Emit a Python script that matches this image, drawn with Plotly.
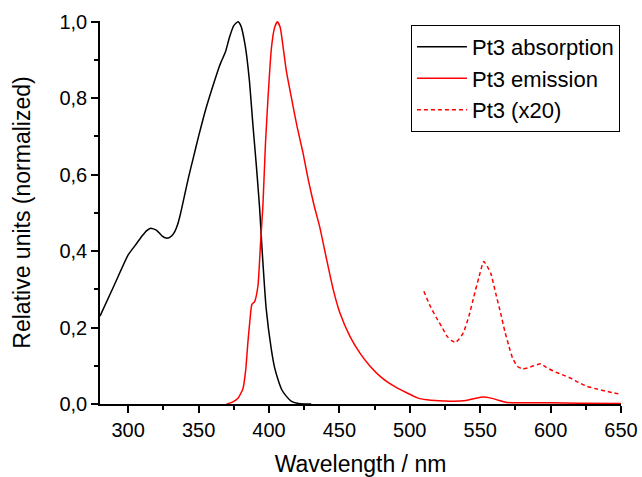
import plotly.graph_objects as go

# Absorption (black)
abs_wl = [280, 290, 300, 305, 310, 313, 316, 320, 324, 327, 329, 331, 333, 335, 337, 340, 343, 346,
          350, 355, 360, 364, 366, 369, 372, 375, 378, 380, 383, 386, 388.6, 391, 393.4, 395, 398,
          401.7, 404, 406.4, 409, 412.4, 416, 420, 425, 430]
abs_val = [0.23, 0.31, 0.39, 0.415, 0.44, 0.453, 0.46, 0.455, 0.44, 0.434, 0.435, 0.44, 0.45, 0.468,
           0.495, 0.545, 0.595, 0.64, 0.70, 0.77, 0.83, 0.875, 0.895, 0.92, 0.96, 0.99, 1.0, 0.99,
           0.94, 0.85, 0.73, 0.625, 0.51, 0.41, 0.25, 0.142, 0.095, 0.064, 0.038, 0.02, 0.007, 0.002,
           0.0, 0.0]

# Emission (red, solid)
em_wl = [370, 374, 378, 381.5, 383.5, 385, 386.5, 387.8, 389.8, 392.2, 394, 395.7, 397.5, 399.3,
         401.7, 404, 406, 408, 410, 412.4, 416, 420, 424, 428, 432, 436, 441, 445.6, 450.4, 457.5,
         464.6, 471.8, 480, 490, 498, 503, 507, 515, 525, 531, 540, 547, 552, 557, 563, 569, 580,
         600, 620, 650]
em_val = [0.0, 0.005, 0.015, 0.04, 0.09, 0.16, 0.22, 0.26, 0.268, 0.31, 0.42, 0.52, 0.68, 0.80,
          0.93, 0.985, 1.0, 0.985, 0.935, 0.87, 0.80, 0.725, 0.66, 0.585, 0.52, 0.464, 0.377, 0.30,
          0.238, 0.177, 0.133, 0.099, 0.069, 0.044, 0.029, 0.02, 0.014, 0.01, 0.008, 0.007, 0.009,
          0.015, 0.018, 0.016, 0.01, 0.004, 0.003, 0.003, 0.002, 0.001]

# Emission x20 (red, dashed)
x20_wl = [510, 514, 519, 523, 526.5, 530, 532.5, 535, 538, 542, 545.5, 549, 552.5, 555, 557.5, 561,
          564.5, 567.5, 570.5, 573, 576.5, 580, 583.5, 588, 593, 597, 602.5, 608, 614, 620, 626,
          633, 640, 645, 650]
x20_val = [0.295, 0.26, 0.225, 0.20, 0.177, 0.165, 0.161, 0.17, 0.186, 0.23, 0.281, 0.33, 0.373,
           0.36, 0.342, 0.29, 0.238, 0.19, 0.15, 0.12, 0.098, 0.092, 0.094, 0.10, 0.105, 0.096,
           0.085, 0.077, 0.068, 0.056, 0.046, 0.039, 0.033, 0.029, 0.025]

x_ticks = [300, 350, 400, 450, 500, 550, 600, 650]
y_ticks = [0.0, 0.2, 0.4, 0.6, 0.8, 1.0]

FONT = "Liberation Sans, Arial, sans-serif"

fig = go.Figure()
fig.add_trace(go.Scatter(x=abs_wl, y=abs_val, mode="lines", name="Pt3 absorption",
                         line=dict(color="black", width=1.5, shape="spline", smoothing=0.5)))
fig.add_trace(go.Scatter(x=em_wl, y=em_val, mode="lines", name="Pt3 emission",
                         line=dict(color="#ff0000", width=1.5, shape="spline", smoothing=0.5)))
fig.add_trace(go.Scatter(x=x20_wl, y=x20_val, mode="lines", name="Pt3 (x20)",
                         line=dict(color="#ff0000", width=1.5, dash="4px,3px", shape="spline", smoothing=0.5)))

fig.update_layout(
    width=642, height=477,
    margin=dict(l=100, r=21, t=21, b=73, autoexpand=False),
    paper_bgcolor="white", plot_bgcolor="white",
    separators=", ",
    font=dict(family=FONT, size=20, color="black"),
    showlegend=True,
    legend=dict(x=0.998, y=0.99, xanchor="right", yanchor="top",
                bordercolor="black", borderwidth=1, bgcolor="white",
                font=dict(family=FONT, size=22, color="black"),
                tracegroupgap=0, itemwidth=50),
)
fig.update_xaxes(
    range=[280, 650], tickvals=x_ticks, ticktext=[str(v) for v in x_ticks], automargin=False,
    showgrid=False, zeroline=False, showline=True, linecolor="black", linewidth=1.5,
    ticks="outside", ticklen=7, tickwidth=1.5, tickcolor="black",
    minor=dict(dtick=25, tick0=275, ticks="outside", ticklen=4, tickwidth=1.5, tickcolor="black", showgrid=False),
    tickfont=dict(family=FONT, size=20, color="black"),
    title=dict(text="Wavelength / nm", font=dict(family=FONT, size=23, color="black"), standoff=17),
)
fig.update_yaxes(
    range=[0, 1.002], tickvals=y_ticks, tickformat=".1f", automargin=False,
    showgrid=False, zeroline=False, showline=True, linecolor="black", linewidth=1.5,
    ticks="outside", ticklen=7, tickwidth=1.5, tickcolor="black",
    minor=dict(dtick=0.1, tick0=0, ticks="outside", ticklen=4, tickwidth=1.5, tickcolor="black", showgrid=False),
    tickfont=dict(family=FONT, size=20, color="black"),
    title=dict(text="Relative units (normalized)", font=dict(family=FONT, size=23, color="black"), standoff=22),
)

fig.write_html("out.html")
